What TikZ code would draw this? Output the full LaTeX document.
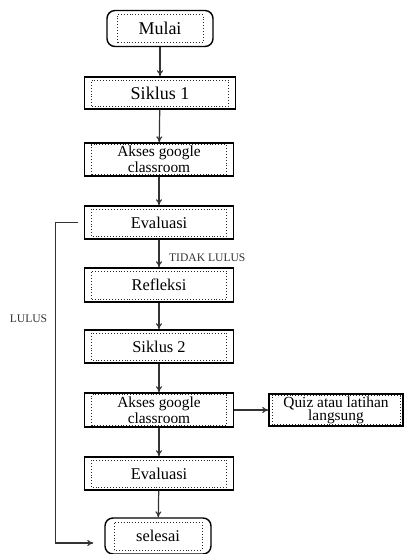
\documentclass[tikz,border=0pt]{standalone}
\usepackage{fontspec}
\setmainfont{Liberation Serif}
\usetikzlibrary{arrows,arrows.meta}

\begin{document}
\begin{tikzpicture}[
x=0.5pt, y=-0.5pt,
box/.style={draw, line width=0.7pt, inner sep=0.5pt, minimum width=74.5pt, minimum height=16.5pt, align=center, font=\fontsize{8.2}{7.2}\selectfont},
twoline/.style={font=\fontsize{7.7}{6.6}\selectfont},
endbox/.style={box, rounded corners=4pt, minimum width=53pt, minimum height=18pt},
big/.style={font=\fontsize{9}{10}\selectfont},
dots/.style 2 args={path picture={\draw[sharp corners, densely dotted, line width=0.45pt, black!85] ([shift={(#1,#2)}]path picture bounding box.south west) rectangle ([shift={(-#1,-#2)}]path picture bounding box.north east);}},
arrowlabel/.style={font=\fontsize{5.8}{7}\selectfont, inner sep=1pt},
arrow/.style={-{To[length=3pt,width=3pt]}, line width=0.6pt, black!80} ]

\useasboundingbox (0,0) rectangle (404,554);

\node[endbox, big, dots={5pt}{2pt}] (M) at (160,28.5) {Mulai};

\node[box, big, dots={3.5pt}{1.5pt}, minimum width=75.5pt, minimum height=16pt] (S1) at (160,93) {Siklus 1};

\node[box, twoline, dots={3.5pt}{0.8pt}] (A1) at (159,159.5) {Akses google\\classroom};

\node[box, dots={3.5pt}{1.5pt}] (E1) at (159,222.5) {Evaluasi};

\node[box, dots={3.5pt}{1.5pt}, minimum height=17pt] (R) at (159,285) {Refleksi};

\node[box, dots={3.5pt}{1.5pt}] (S2) at (159,346.5) {Siklus 2};

\node[box, twoline, dots={3.5pt}{0.8pt}, minimum height=17pt] (A2) at (159,410) {Akses google\\classroom};

\node[box, twoline, dots={1.5pt}{0.8pt}, minimum width=67pt, minimum height=16pt] (Q) at (336,410) {Quiz atau latihan\\langsung};

\node[box, dots={3.5pt}{1.5pt}] (E2) at (159,473.5) {Evaluasi};

\node[endbox, dots={4.5pt}{2pt}] (F) at (158,536) {selesai};

\draw[arrow] (M) -- (S1);

\draw[arrow] (S1) -- (A1);

\draw[arrow] (A1) -- (E1);

\draw[arrow] (E1) -- node[pos=0.66, right, arrowlabel, xshift=3.75pt] {TIDAK LULUS} (R);

\draw[arrow] (R) -- (S2);

\draw[arrow] (S2) -- (A2);

\draw[arrow] (A2) -- (Q);

\draw[arrow] (A2) -- (E2);

\draw[arrow] (E2) -- (F);

\draw[arrow, shorten <=2.75pt, shorten >=5.5pt] (E1.west) -- ++(-28,0) |- node[pos=0.15, left, arrowlabel, xshift=-3pt] {LULUS} ([yshift=-3.5pt]F.west);

\end{tikzpicture}
\end{document}
